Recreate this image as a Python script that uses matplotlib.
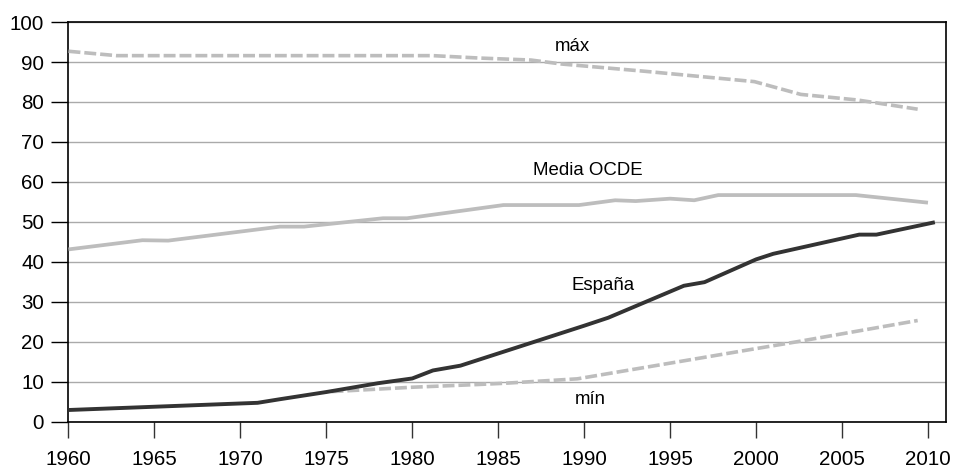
import matplotlib
matplotlib.use("Agg")
import matplotlib.pyplot as plt

plt.rcParams['font.family'] = ['Liberation Sans', 'DejaVu Sans']

# valores
espana_x = [1960, 1971, 1972.3, 1975, 1978, 1980, 1981.2, 1982.8, 1990, 1991.4,
            1995.8, 1997, 2000, 2001, 2006, 2007, 2010.4]
espana_y = [2.9, 4.7, 5.6, 7.4, 9.6, 10.8, 12.8, 14.0, 24.0, 26.0,
            34.0, 34.9, 40.6, 42.0, 46.8, 46.8, 49.9]

media_x = [1960, 1964.3, 1965.8, 1972.3, 1973.7, 1978.3, 1979.7, 1985.3, 1989.7,
           1991.8, 1993, 1995, 1996.4, 1997.8, 2005.8, 2010]
media_y = [43.1, 45.4, 45.3, 48.8, 48.8, 50.9, 50.9, 54.2, 54.2,
           55.4, 55.2, 55.8, 55.4, 56.7, 56.7, 54.8]

max_x = [1960, 1962.8, 1981.2, 1983.9, 1986.9, 1988.7, 1993.5, 1999.9, 2002.6,
         2005.9, 2009.4]
max_y = [92.7, 91.6, 91.6, 91.0, 90.5, 89.5, 87.7, 85.1, 81.9, 80.5, 78.2]

min_x = [1975.3, 1980, 1983.9, 1985.4, 1989.6, 1999.9, 2002.4, 2009.4]
min_y = [7.5, 8.6, 9.3, 9.6, 10.7, 18.2, 20.0, 25.3]

year_ticks = list(range(1960, 2011, 5))
value_ticks = list(range(0, 101, 10))

fig = plt.figure(figsize=(9.58, 4.70), dpi=100)
ax = fig.add_axes([0.0715, 0.103, 0.916, 0.850])

gray = '#bdbdbd'
ax.plot(max_x, max_y, color=gray, lw=2.6, dashes=(3.3, 1.1), zorder=3)
ax.plot(min_x, min_y, color=gray, lw=2.6, dashes=(3.3, 1.1), zorder=3)
ax.plot(media_x, media_y, color=gray, lw=2.7, solid_capstyle='butt', zorder=3)
ax.plot(espana_x, espana_y, color='#333333', lw=2.8, solid_capstyle='butt', zorder=4)

ax.text(1989.3, 93.9, 'máx', fontsize=13.4, ha='center', va='center')
ax.text(1990.2, 62.8, 'Media OCDE', fontsize=13.4, ha='center', va='center')
ax.text(1991.1, 34.0, 'España', fontsize=13.4, ha='center', va='center')
ax.text(1990.35, 5.6, 'mín', fontsize=13.4, ha='center', va='center')

ax.set_xlim(1960, 2011.05)
ax.set_ylim(0, 100)
ax.set_xticks(year_ticks)
ax.set_yticks(value_ticks)
ax.yaxis.grid(True, color='#aaaaaa', lw=1.0)
ax.set_axisbelow(True)

ax.tick_params(axis='y', length=12.5, width=1.0, pad=5, labelsize=14.8, color='black')
ax.tick_params(axis='x', length=11.5, width=1.0, pad=9, labelsize=14.8, color='#333333')
for s in ax.spines.values():
    s.set_linewidth(1.2)
    s.set_color('black')

fig.savefig('out.png', dpi=100)
